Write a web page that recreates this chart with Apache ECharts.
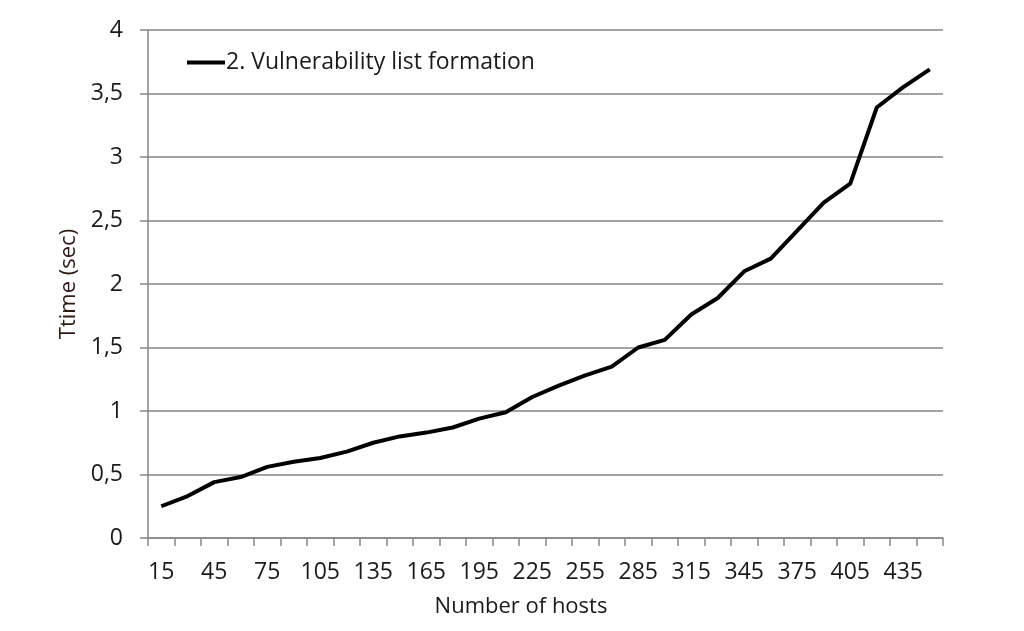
<!DOCTYPE html>
<html>
<head>
<meta charset="utf-8">
<script src="https://cdn.jsdelivr.net/npm/echarts@6/dist/echarts.min.js"></script>
<style>
html,body{margin:0;padding:0;background:#fff;}
#chart{width:1024px;height:631px;}
</style>
</head>
<body>
<div id="chart"></div>
<script>
const hosts = [15,30,45,60,75,90,105,120,135,150,165,180,195,210,225,240,255,270,285,300,315,330,345,360,375,390,405,420,435,450];
const timeSec = [0.25,0.33,0.44,0.48,0.56,0.60,0.63,0.68,0.75,0.80,0.83,0.87,0.94,0.99,1.11,1.20,1.28,1.35,1.50,1.56,1.76,1.89,2.10,2.20,2.42,2.64,2.79,3.39,3.55,3.69];
const seriesName = '2. Vulnerability list formation';
const xTitle = 'Number of hosts';
const yTitle = 'Ttime (sec)';

const FONT = 'Open Sans';
const chart = echarts.init(document.getElementById('chart'));
chart.setOption({
  animation: false,
  backgroundColor: '#fff',
  grid: {left: 148, right: 81, top: 30, bottom: 93, containLabel: false},
  legend: {
    left: 182, top: 46,
    icon: 'rect', itemWidth: 38, itemHeight: 4, itemGap: 4,
    textStyle: {fontFamily: FONT, fontSize: 23, color: '#1a1a1a', padding: [0,0,0,-4]},
    data: [seriesName]
  },
  xAxis: {
    type: 'category',
    data: hosts.map(String),
    boundaryGap: true,
    name: xTitle,
    nameLocation: 'middle',
    nameGap: 58,
    nameTextStyle: {fontFamily: FONT, fontSize: 22, color: '#1a1a1a', padding: [0, 49, 0, 0]},
    axisLine: {lineStyle: {color: '#868686', width: 1.5}},
    axisTick: {show: true, interval: 0, length: 8, alignWithLabel: false, lineStyle: {color: '#868686', width: 1.5}},
    axisLabel: {interval: 1, margin: 23, fontFamily: FONT, fontSize: 23, color: '#1a1a1a'},
    splitLine: {show: false}
  },
  yAxis: {
    type: 'value',
    min: 0, max: 4, interval: 0.5,
    name: yTitle,
    nameLocation: 'middle',
    nameGap: 60,
    nameTextStyle: {fontFamily: FONT, fontSize: 22, color: '#2b1a16'},
    axisLine: {show: true, lineStyle: {color: '#868686', width: 1.5}},
    axisTick: {show: true, length: 8, lineStyle: {color: '#868686', width: 1.5}},
    axisLabel: {margin: 25, fontFamily: FONT, fontSize: 23, color: '#1a1a1a',
      formatter: v => String(v).replace('.', ',')},
    splitLine: {show: true, lineStyle: {color: '#868686', width: 1.5}}
  },
  series: [{
    name: seriesName,
    type: 'line',
    data: timeSec,
    showSymbol: false,
    symbol: 'none',
    lineStyle: {color: '#000', width: 4},
    itemStyle: {color: '#000'}
  }]
});
</script>
</body>
</html>
